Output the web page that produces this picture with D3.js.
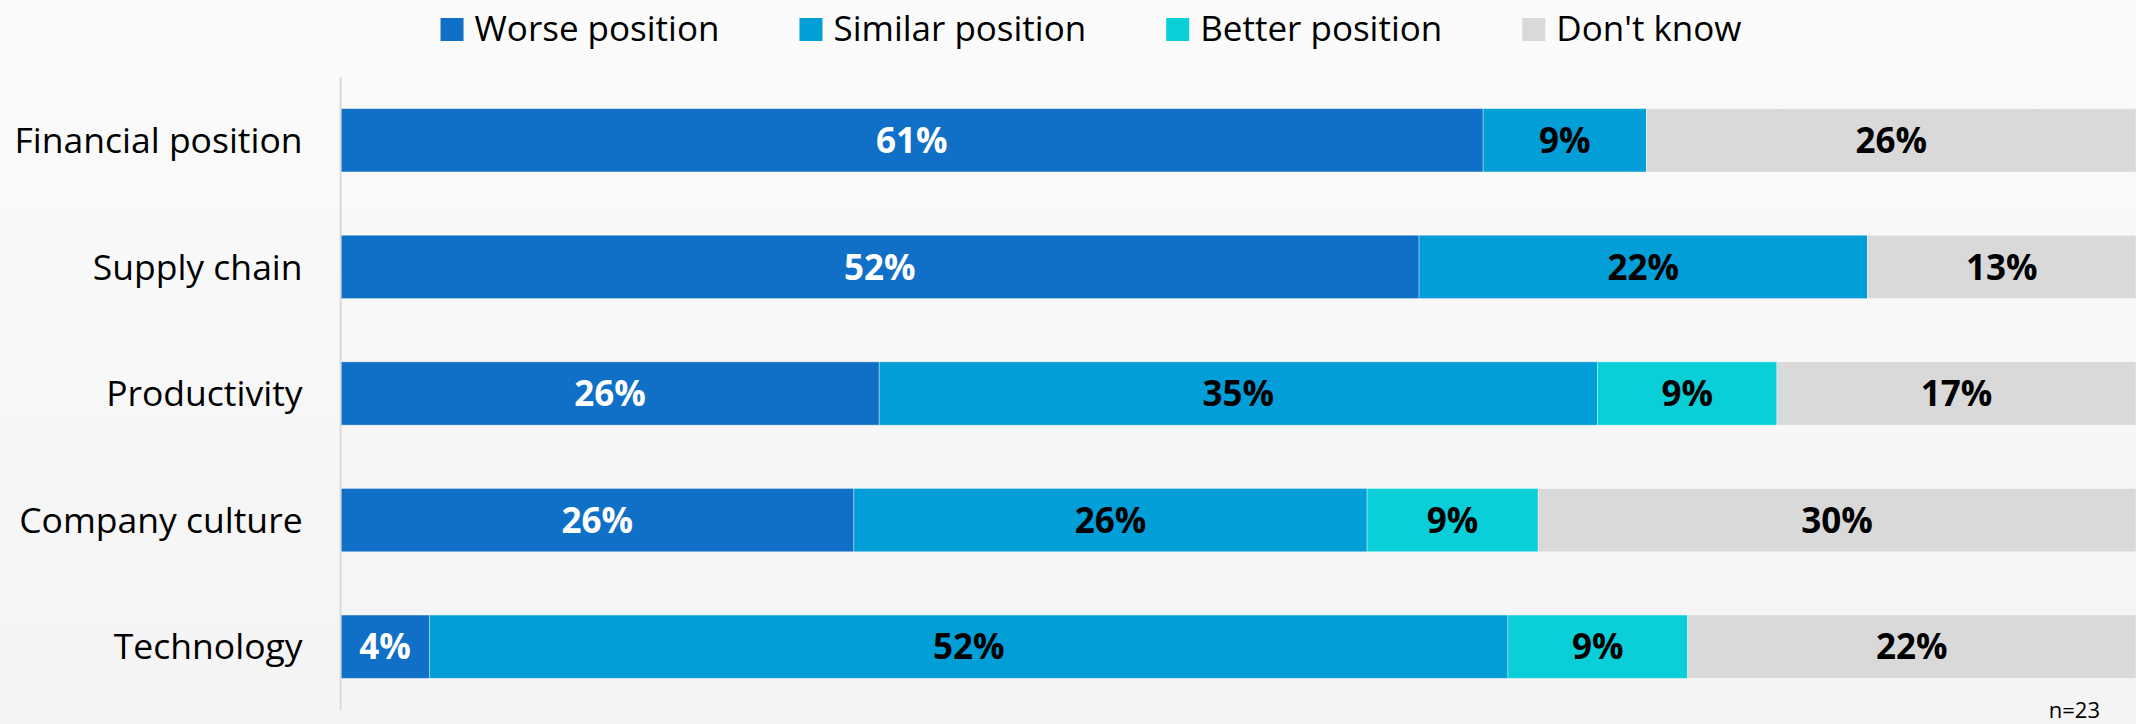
<!DOCTYPE html>
<html>
<head>
<meta charset="utf-8">
<script src="https://cdn.jsdelivr.net/npm/d3@7"></script>
<style>
  html, body { margin: 0; padding: 0; overflow: hidden; }
  body { width: 2136px; height: 724px; }
  svg { display: block; font-family: "Open Sans", "Noto Sans", sans-serif; }
</style>
</head>
<body>
<svg id="chart" width="2136" height="724"></svg>
<script>
const categories = ["Financial position", "Supply chain", "Productivity", "Company culture", "Technology"];
const seriesNames = ["Worse position", "Similar position", "Better position", "Don't know"];
// percentages of n=23 respondents (labels show them rounded)
const worse    = [60.9, 52.2, 26.1, 26.1, 4.3];
const similar  = [8.7, 21.7, 34.8, 26.1, 52.2];
const better   = [0, 0, 8.7, 8.7, 8.7];
const dontKnow = [26.1, 13.0, 17.4, 30.4, 21.7];
const colors = ["#106fc6", "#029ed8", "#0bcfd8", "#d9d9d9"];
const labelColors = ["#ffffff", "#000000", "#000000", "#000000"];
const note = "n=23";

const W = 2136, H = 724;
const svg = d3.select("#chart");

// background gradient
const defs = svg.append("defs");
const grad = defs.append("linearGradient").attr("id", "bg").attr("x1", 0).attr("y1", 0).attr("x2", 0).attr("y2", 1);
grad.append("stop").attr("offset", "0%").attr("stop-color", "#fbfbfb");
grad.append("stop").attr("offset", "100%").attr("stop-color", "#f4f4f4");
svg.append("rect").attr("width", W).attr("height", H).attr("fill", "url(#bg)");

const seriesValues = [worse, similar, better, dontKnow];
const rows = categories.map((c, i) => {
  const o = { category: c };
  seriesNames.forEach((s, k) => o[s] = seriesValues[k][i]);
  return o;
});

const stack = d3.stack().keys(seriesNames).offset(d3.stackOffsetExpand);
const stacked = stack(rows);

const x = d3.scaleLinear().domain([0, 1]).range([340.6, 2136]);
const y = d3.scaleBand().domain(categories).range([77, 710]).paddingInner(0.5).paddingOuter(0.25);

// bars
const layers = svg.append("g").selectAll("g").data(stacked).join("g")
  .attr("fill", (d, i) => colors[i]);

layers.selectAll("rect").data(d => d).join("rect")
  .attr("x", d => x(d[0]))
  .attr("y", d => y(d.data.category))
  .attr("width", d => Math.max(0, x(d[1]) - x(d[0])))
  .attr("height", y.bandwidth())
  .attr("stroke", "#ffffff")
  .attr("stroke-opacity", 0.45)
  .attr("stroke-width", 0.8);

// data labels
stacked.forEach((layer, k) => {
  svg.append("g").selectAll("text").data(layer.filter(d => d.data[layer.key] > 0)).join("text")
    .attr("x", d => (x(d[0]) + x(d[1])) / 2)
    .attr("y", d => y(d.data.category) + y.bandwidth() / 2)
    .attr("dy", "0.36em")
    .attr("text-anchor", "middle")
    .attr("font-size", 35)
    .attr("font-weight", 700)
    .attr("fill", labelColors[k])
    .text(d => Math.round(d.data[layer.key]) + "%");
});

// y axis
const yAxis = d3.axisLeft(y).tickSize(0).tickPadding(38);
const ag = svg.append("g").attr("transform", `translate(${x(0)},0)`).call(yAxis);
ag.select(".domain").attr("stroke", "#d9d9d9").attr("stroke-width", 2).attr("d", "M0,77V710");
ag.selectAll(".tick text").attr("font-size", 35.5).attr("font-family", "\"Open Sans\", sans-serif").attr("fill", "#000").attr("dy", "0.36em");

// legend
const legend = svg.append("g");
const items = legend.selectAll("g").data(seriesNames).join("g");
items.append("rect").attr("width", 23).attr("height", 23).attr("y", 18).attr("fill", (d, i) => colors[i]);
items.append("text").attr("x", 34).attr("y", 41).attr("font-size", 35).attr("fill", "#000").text(d => d);
const widths = [];
items.each(function() {
  const tw = d3.select(this).select("text").node().getComputedTextLength();
  widths.push(34 + tw);
});
const total = d3.sum(widths) + 80 * (widths.length - 1);
let start = 1091 - total / 2;
items.attr("transform", (d, i) => {
  const t = `translate(${start},0)`;
  start += widths[i] + 80;
  return t;
});

// note
svg.append("text").attr("x", 2100).attr("y", 718).attr("text-anchor", "end")
  .attr("font-size", 22).attr("fill", "#000").text(note);
</script>
</body>
</html>
